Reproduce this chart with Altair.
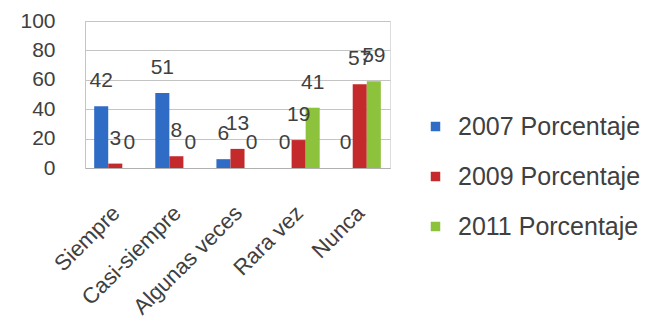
import altair as alt
import pandas as pd

categories = ["Siempre", "Casi-siempre", "Algunas veces", "Rara vez", "Nunca"]
series = ["2007 Porcentaje", "2009 Porcentaje", "2011 Porcentaje"]
v2007 = [42, 51, 6, 0, 0]
v2009 = [3, 8, 13, 19, 57]
v2011 = [0, 0, 0, 41, 59]
colors = ["#2f6cc6", "#c42a2c", "#8cc23c"]
y_ticks = [0, 20, 40, 60, 80, 100]

rows = []
for s, vals in zip(series, [v2007, v2009, v2011]):
    for c, v in zip(categories, vals):
        rows.append({"cat": c, "serie": s, "val": v})
df = pd.DataFrame(rows)

FONT = "Liberation Sans"
TXT = "#404040"

x = alt.X("cat:N", sort=categories, title=None,
          scale=alt.Scale(paddingInner=0.31, paddingOuter=0.15),
          axis=alt.Axis(labelAngle=-45, labelFontSize=22, labelFont=FONT, labelColor=TXT,
                        ticks=False, domainColor="#b0b0b0", labelPadding=34, labelLimit=300,
                        labelOverlap=False, labelOffset=-6))
xo = alt.XOffset("serie:N", sort=series, scale=alt.Scale(paddingInner=0, paddingOuter=0))
y = alt.Y("val:Q", title=None,
          scale=alt.Scale(domain=[0, 100], nice=False),
          axis=alt.Axis(values=y_ticks, labelFontSize=21, labelFont=FONT,
                        labelColor=TXT, ticks=False, labelPadding=30, gridColor="#c4c4c4",
                        domainColor="#c4c4c4", labelOverlap=False))
color = alt.Color("serie:N", sort=series, title=None,
                  scale=alt.Scale(domain=series, range=colors),
                  legend=alt.Legend(orient="none", legendX=338, legendY=93, symbolType="square",
                                    symbolSize=90, labelFontSize=25, labelFont=FONT, labelColor=TXT,
                                    rowPadding=24, padding=0, labelOffset=10, symbolStrokeWidth=0,
                                    labelLimit=400))

bars = alt.Chart(df).mark_bar().encode(x=x, xOffset=xo, y=y, color=color)
labels = alt.Chart(df).mark_text(baseline="alphabetic", dy=-19, fontSize=21, font=FONT, color=TXT).encode(
    x=x, xOffset=xo, y=y, text="val:Q")

chart = alt.layer(bars, labels).properties(
    width=305, height=147,
    autosize=alt.AutoSizeParams(type="none"),
    padding={"left": 85, "top": 21, "right": 265, "bottom": 160},
).configure_view(strokeWidth=0).configure(background="white")

chart.save("out.html", embed_options={"renderer": "svg", "actions": False})
